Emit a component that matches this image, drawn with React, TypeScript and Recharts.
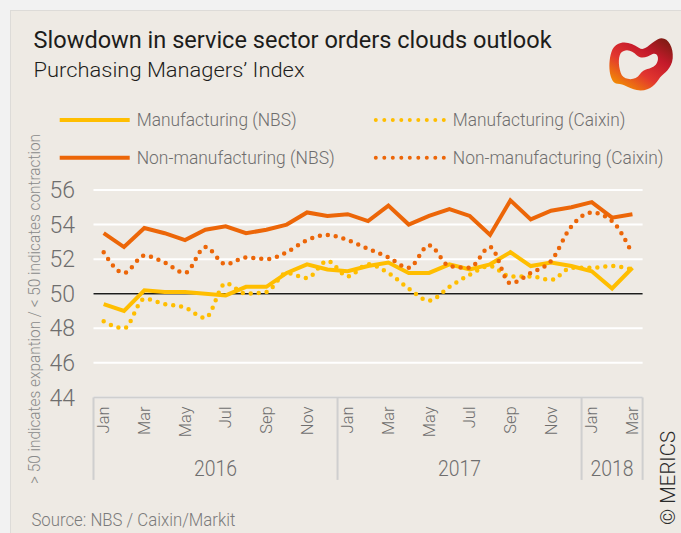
import React from 'react';
import { LineChart, Line, XAxis, YAxis, CartesianGrid, ReferenceLine } from 'recharts';

// months shown on the x axis, with the year each block belongs to
const monthNames = ['Jan', 'Feb', 'Mar', 'Apr', 'May', 'Jun', 'Jul', 'Aug', 'Sep', 'Oct', 'Nov', 'Dec'];
const yearLabels = ['2016', '2017', '2018'];
const monthsPerYear = [12, 12, 3];

const mfgNbs = [49.4, 49.0, 50.2, 50.1, 50.1, 50.0, 49.9, 50.4, 50.4, 51.2, 51.7, 51.4,
    51.3, 51.6, 51.8, 51.2, 51.2, 51.7, 51.4, 51.7, 52.4, 51.6, 51.8, 51.6,
    51.3, 50.3, 51.5];
const mfgCaixin = [48.4, 48.0, 49.7, 49.4, 49.2, 48.6, 50.6, 50.0, 50.1, 51.2, 50.9, 51.9,
    51.0, 51.7, 51.2, 50.3, 49.6, 50.4, 51.1, 51.6, 51.0, 51.0, 50.8, 51.5,
    51.5, 51.6, 51.4];
const nonMfgNbs = [53.5, 52.7, 53.8, 53.5, 53.1, 53.7, 53.9, 53.5, 53.7, 54.0, 54.7, 54.5,
    54.6, 54.2, 55.1, 54.0, 54.5, 54.9, 54.5, 53.4, 55.4, 54.3, 54.8, 55.0,
    55.3, 54.4, 54.6];
const nonMfgCaixin = [52.4, 51.2, 52.2, 51.8, 51.2, 52.7, 51.7, 52.1, 52.0, 52.4, 53.1, 53.4,
    53.1, 52.6, 52.1, 51.5, 52.8, 51.6, 51.5, 52.7, 50.6, 51.2, 51.9, 53.9,
    54.7, 54.2, 52.3];

const yTicks = [44, 46, 48, 50, 52, 54, 56];

const YELLOW = '#ffbe00';
const ORANGE = '#ec6608';
const GREY = '#6e6e6e';
const FONT = 'Roboto, "Open Sans", sans-serif';

const data = yearLabels.flatMap((yr, yi) =>
    monthNames.slice(0, monthsPerYear[yi]).map(m => ({ month: m, year: yr }))
).map((d, i) => ({
    ...d,
    mfgNbs: mfgNbs[i],
    mfgCaixin: mfgCaixin[i],
    nonMfgNbs: nonMfgNbs[i],
    nonMfgCaixin: nonMfgCaixin[i],
}));

const W = 671;
const H = 523;
const margin = { top: 179, right: 39.4, bottom: 46.6, left: 22.5 };
const Y_AXIS_W = 60;
const X_AXIS_H = 90;
const plotW = W - margin.left - margin.right - Y_AXIS_W;
const half = plotW / data.length / 2;

/* month labels + year boxes under the plot */
const MonthTick = (props: any) => {
    const { x, y, index } = props;
    const d = data[index];
    const sep = '#cfcfcf';
    const lineBottom = y + 82.5;
    const out: React.ReactNode[] = [];
    if (index % 2 === 0) {
        out.push(
            <text key="m" x={x} y={y + 9} transform={`rotate(-90 ${x} ${y + 9})`} textAnchor="end"
                dominantBaseline="central" fontSize={16.5} fontFamily={FONT} fontWeight={300} fill={GREY}>
                {d.month}
            </text>
        );
    }
    if (d.month === 'Jan') {
        out.push(<line key="s" x1={x - half} x2={x - half} y1={y} y2={lineBottom} stroke={sep} strokeWidth={2} />);
    }
    if (index === data.length - 1) {
        out.push(<line key="e" x1={x + half} x2={x + half} y1={y} y2={lineBottom} stroke={sep} strokeWidth={2} />);
    }
    // year label in the middle of its block
    const yi = yearLabels.indexOf(d.year);
    const start = monthsPerYear.slice(0, yi).reduce((a, b) => a + b, 0);
    const mid = start + (monthsPerYear[yi] - 1) / 2;
    if (Math.floor(mid) === index) {
        const cx = mid === index ? x : x + half;
        out.push(
            <text key="y" x={cx} y={y + 71.5} textAnchor="middle" dominantBaseline="central"
                fontSize={22} fontFamily={FONT} fontWeight={300} fill={GREY} textLength={43} lengthAdjust="spacingAndGlyphs">
                {d.year}
            </text>
        );
    }
    return <g>{out}</g>;
};

const legendItems = [
    { label: 'Manufacturing (NBS)', color: YELLOW, dotted: false, x: 48.7, y: 109, w: 160 },
    { label: 'Manufacturing (Caixin)', color: YELLOW, dotted: true, x: 364.8, y: 109, w: 172.6 },
    { label: 'Non-manufacturing (NBS)', color: ORANGE, dotted: false, x: 48.7, y: 146.7, w: 198 },
    { label: 'Non-manufacturing (Caixin)', color: ORANGE, dotted: true, x: 364.8, y: 146.7, w: 210.6 },
];

const Logo = () => (
    <g transform="translate(596 24) scale(1.06)">
        <defs>
            <linearGradient id="lg" x1="1" y1="0" x2="0.2" y2="1">
                <stop offset="0" stopColor="#6e1d0e" />
                <stop offset="0.35" stopColor="#c41a2b" />
                <stop offset="0.65" stopColor="#e2362f" />
                <stop offset="1" stopColor="#f39200" />
            </linearGradient>
        </defs>
        <path fillRule="evenodd" fill="url(#lg)"
            d="M 5 14 C 10 4, 22 6, 30 12 C 36 16, 40 8, 48 4 C 56 0, 63 10, 62 22 C 61 32, 54 36, 50 40 C 46 46, 40 54, 28 52 C 20 50, 16 46, 10 46 C 2 46, 0 26, 5 14 Z
               M 13 17 C 18 12, 24 15, 28 19 C 32 23, 38 21, 43 18 C 48 16, 50 23, 46 28 C 41 33, 35 31, 31 37 C 27 43, 18 43, 14 38 C 11 32, 10 22, 13 17 Z" />
    </g>
);

export default function App() {
    return (
        <div style={{ position: 'fixed', left: 0, top: 0, width: 681, height: 533, background: '#f2f2f2' }}>
            <div style={{
                position: 'absolute', left: 10, top: 10, width: W, height: H, background: '#eeeae4',
                borderLeft: '1px solid #dddbd8', borderTop: '1px solid #dddbd8', boxSizing: 'border-box',
            }}>
                <div style={{ position: 'absolute', left: 0, top: 0 }}>
                    <LineChart width={W} height={H} data={data} margin={margin}>
                        <CartesianGrid vertical={false} stroke="#ffffff" strokeWidth={2} />
                        <XAxis dataKey="month" interval={0} tickLine={false} tickSize={0} tickMargin={0}
                            height={X_AXIS_H} padding={{ left: half, right: half }}
                            axisLine={{ stroke: '#cfcfcf', strokeWidth: 2 }} tick={<MonthTick />} />
                        <YAxis domain={[44, 56]} ticks={yTicks} width={Y_AXIS_W} axisLine={false} tickLine={false}
                            tickMargin={12.5}
                            tick={{ fill: GREY, fontSize: 23, fontFamily: FONT, fontWeight: 300 }} />
                        <ReferenceLine y={50} stroke="#1d1d1b" strokeWidth={1.5} />
                        <Line dataKey="mfgCaixin" type="monotone" stroke={YELLOW} strokeWidth={4.5}
                            strokeDasharray="0 8" strokeLinecap="round" dot={false} isAnimationActive={false} />
                        <Line dataKey="mfgNbs" type="linear" stroke={YELLOW} strokeWidth={4}
                            dot={false} isAnimationActive={false} />
                        <Line dataKey="nonMfgNbs" type="linear" stroke={ORANGE} strokeWidth={4}
                            dot={false} isAnimationActive={false} />
                        <Line dataKey="nonMfgCaixin" type="monotone" stroke={ORANGE} strokeWidth={4.5}
                            strokeDasharray="0 8" strokeLinecap="round" dot={false} isAnimationActive={false} />
                    </LineChart>
                </div>
                <svg width={W} height={H} style={{ position: 'absolute', left: 0, top: 0, pointerEvents: 'none' }}
                    fontFamily={FONT}>
                    <text x={22.6} y={36.7} fontSize={24.5} fill="#1d1d1b" textLength={518} lengthAdjust="spacingAndGlyphs">
                        Slowdown in service sector orders clouds outlook
                    </text>
                    <text x={22.6} y={66} fontSize={20.5} fontWeight={300} fill="#1d1d1b" textLength={271} lengthAdjust="spacingAndGlyphs">
                        Purchasing Managers’ Index
                    </text>
                    {legendItems.map(it => (
                        <g key={it.label}>
                            <line x1={it.x} x2={it.x + 70} y1={it.y} y2={it.y} stroke={it.color}
                                strokeWidth={4}
                                strokeDasharray={it.dotted ? '0 8.5' : undefined} strokeLinecap={it.dotted ? 'round' : 'butt'} />
                            <text x={it.x + 77} y={it.y} dominantBaseline="central" fontSize={17.5} fontWeight={300}
                                fill={GREY} textLength={it.w} lengthAdjust="spacingAndGlyphs">
                                {it.label}
                            </text>
                        </g>
                    ))}
                    <text x={23.5} y={298} transform="rotate(-90 23.5 298)" textAnchor="middle" dominantBaseline="central"
                        fontSize={16.5} fontWeight={300} fill="#8a8a8a" textLength={350} lengthAdjust="spacingAndGlyphs">
                        {'> 50 indicates expantion / < 50 indicates contraction'}
                    </text>
                    <text x={20.4} y={515} fontSize={18} fontWeight={300} fill="#7b7b7b" textLength={204} lengthAdjust="spacingAndGlyphs">
                        Source: NBS / Caixin/Markit
                    </text>
                    <text x={657} y={467} transform="rotate(-90 657 467)" textAnchor="middle" dominantBaseline="central"
                        fontSize={21} fontWeight={300} fill="#2b2b2b" textLength={94} lengthAdjust="spacingAndGlyphs">
                        © MERICS
                    </text>
                    <Logo />
                </svg>
            </div>
        </div>
    );
}
